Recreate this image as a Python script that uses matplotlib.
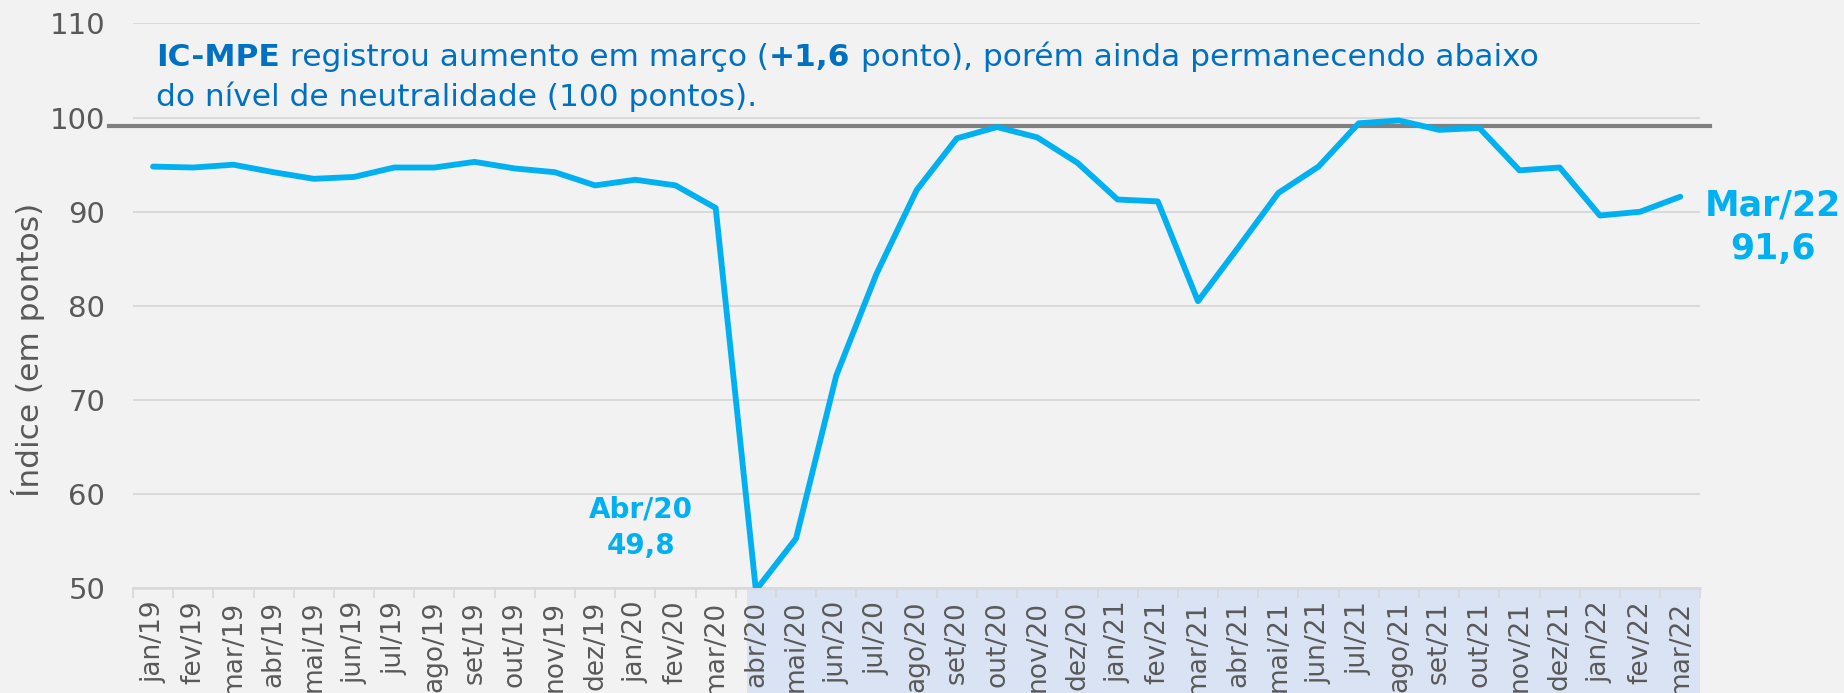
import numpy as np
import matplotlib
matplotlib.use("Agg")
import matplotlib.pyplot as plt
from matplotlib.patches import Rectangle

# meses (jan/19 a mar/22)
meses = ['jan/19', 'fev/19', 'mar/19', 'abr/19', 'mai/19', 'jun/19', 'jul/19', 'ago/19',
         'set/19', 'out/19', 'nov/19', 'dez/19', 'jan/20', 'fev/20', 'mar/20', 'abr/20',
         'mai/20', 'jun/20', 'jul/20', 'ago/20', 'set/20', 'out/20', 'nov/20', 'dez/20',
         'jan/21', 'fev/21', 'mar/21', 'abr/21', 'mai/21', 'jun/21', 'jul/21', 'ago/21',
         'set/21', 'out/21', 'nov/21', 'dez/21', 'jan/22', 'fev/22', 'mar/22']

ic_mpe = [94.8, 94.7, 95.0, 94.2, 93.5, 93.7, 94.7, 94.7,
          95.3, 94.6, 94.2, 92.8, 93.4, 92.8, 90.4, 49.8,
          55.3, 72.6, 83.4, 92.3, 97.8, 99.0, 97.9, 95.2,
          91.3, 91.1, 80.5, 86.2, 92.0, 94.8, 99.4, 99.7,
          98.7, 98.9, 94.4, 94.7, 89.6, 90.0, 91.6]

nivel_neutro = 99.15
inicio_destaque = 'abr/20'

AZUL = '#00b0f0'
AZUL_TEXTO = '#0070c0'
CINZA = '#595959'
FUNDO = '#f2f2f2'

fig = plt.figure(figsize=(18.44, 6.93), dpi=100, facecolor=FUNDO)
ax = fig.add_axes([0.0721, 0.1511, 0.8500, 0.8150])
ax.set_facecolor(FUNDO)

x = np.arange(len(meses))
ax.plot(x, ic_mpe, color=AZUL, lw=4.2, solid_capstyle='round', zorder=4)

ax.set_xlim(-0.5, len(meses) - 0.5)
ax.set_ylim(50, 110)
ax.set_yticks(np.arange(50, 111, 10))
ax.grid(axis='y', color='#d9d9d9', lw=1.4, zorder=1)
ax.set_axisbelow(True)

for s in ['top', 'right', 'left']:
    ax.spines[s].set_visible(False)
ax.spines['bottom'].set_color('#d9d9d9')
ax.spines['bottom'].set_linewidth(1.8)

# linha de neutralidade
ax.axhline(nivel_neutro, xmin=-0.015, xmax=1.006, color='#808080', lw=3,
           clip_on=False, zorder=3)

ax.set_xticks(x)
ax.set_xticklabels(meses, rotation=90, fontsize=19, color=CINZA,
                   family='DejaVu Sans')
ax.set_xticks(np.arange(-0.5, len(meses), 1), minor=True)
ax.tick_params(axis='x', which='major', length=0, pad=9)
ax.tick_params(axis='x', which='minor', length=7, width=1.3, color='#d9d9d9')
ax.tick_params(axis='y', length=0, pad=20, labelsize=21, labelcolor=CINZA)

# faixa de destaque sob o eixo
i0 = meses.index(inicio_destaque)
faixa = Rectangle((i0 - 0.22, -0.3), len(meses) - 0.5 - (i0 - 0.22), 0.3,
                  transform=ax.get_xaxis_transform(), facecolor='#dae3f3',
                  edgecolor='none', clip_on=False, zorder=0)
ax.add_patch(faixa)

ax.set_ylabel('Índice (em pontos)', fontsize=22.5, color=CINZA)
ax.yaxis.set_label_coords(-0.056, 0.423)

# texto de destaque com partes em negrito
linhas = [
    [('IC-MPE', 'bold'), (' registrou aumento em março (', 'normal'), ('+1,6', 'bold'),
     (' ponto), porém ainda permanecendo abaixo', 'normal')],
    [('do nível de neutralidade (100 pontos).', 'normal')],
]
ys = [0.925, 0.854]
for partes, y0 in zip(linhas, ys):
    prev = None
    for txt, peso in partes:
        if prev is None:
            prev = ax.text(0.015, y0, txt, transform=ax.transAxes, fontsize=22.5,
                           color=AZUL_TEXTO, fontweight=peso, va='baseline', ha='left')
        else:
            prev = ax.annotate(txt, xy=(1, 0), xycoords=prev, fontsize=22.5,
                               color=AZUL_TEXTO, fontweight=peso, va='bottom', ha='left')

# rótulos de mínimo e último valor
i_min = int(np.argmin(ic_mpe))
ax.annotate(f"{meses[i_min].capitalize()}\n{ic_mpe[i_min]:.1f}".replace('.', ','),
            xy=(i_min, ic_mpe[i_min]), xytext=(-83, 45), textcoords='offset points',
            ha='center', va='center', fontsize=20, fontweight='bold', color=AZUL,
            linespacing=1.4, annotation_clip=False)
ax.annotate(f"{meses[-1].capitalize()}\n{ic_mpe[-1]:.1f}".replace('.', ','),
            xy=(len(meses) - 1, ic_mpe[-1]), xytext=(67, -22), textcoords='offset points',
            ha='center', va='center', fontsize=25, fontweight='bold', color=AZUL,
            linespacing=1.35, annotation_clip=False)

fig.savefig('out.png', dpi=100, facecolor=FUNDO)
